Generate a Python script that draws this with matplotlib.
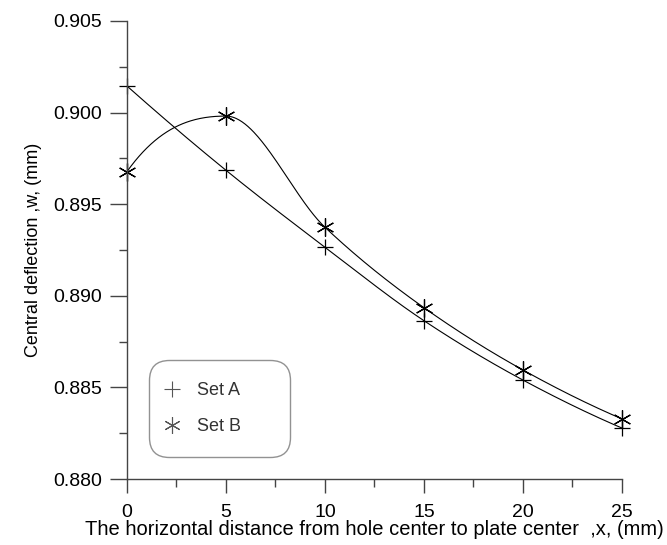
import numpy as np
import matplotlib
matplotlib.use("Agg")
import matplotlib.pyplot as plt

plt.rcParams['font.family'] = ['Liberation Sans', 'DejaVu Sans']

x_mm = [0, 5, 10, 15, 20, 25]
set_a = [0.90145, 0.89685, 0.89265, 0.88864, 0.88540, 0.88278]
set_b = [0.89678, 0.89981, 0.89374, 0.88935, 0.88595, 0.88328]


def pchip(x, y, xs):
    # monotone piecewise cubic (Fritsch-Carlson)
    x = np.asarray(x, float)
    y = np.asarray(y, float)
    h = np.diff(x)
    d = np.diff(y) / h
    n = len(x)
    m = np.zeros(n)
    for k in range(1, n - 1):
        if d[k - 1] * d[k] > 0:
            w1 = 2 * h[k] + h[k - 1]
            w2 = h[k] + 2 * h[k - 1]
            m[k] = (w1 + w2) / (w1 / d[k - 1] + w2 / d[k])
    def end(h0, h1, d0, d1):
        s = ((2 * h0 + h1) * d0 - h0 * d1) / (h0 + h1)
        if np.sign(s) != np.sign(d0):
            s = 0.0
        elif np.sign(d0) != np.sign(d1) and abs(s) > abs(3 * d0):
            s = 3 * d0
        return s
    m[0] = end(h[0], h[1], d[0], d[1])
    m[-1] = end(h[-1], h[-2], d[-1], d[-2])
    idx = np.clip(np.searchsorted(x, xs) - 1, 0, n - 2)
    hh = h[idx]
    t = (xs - x[idx]) / hh
    h00 = 2 * t**3 - 3 * t**2 + 1
    h10 = t**3 - 2 * t**2 + t
    h01 = -2 * t**3 + 3 * t**2
    h11 = t**3 - t**2
    return h00 * y[idx] + h10 * hh * m[idx] + h01 * y[idx + 1] + h11 * hh * m[idx + 1]


fig = plt.figure(figsize=(6.67, 5.45), dpi=100)
ax = fig.add_axes([0.1904, 0.1211, 0.7421, 0.8404])

xs = np.linspace(0, 25, 500)
ax.plot(xs, pchip(x_mm, set_a, xs), color='black', lw=0.8)
ax.plot(xs, pchip(x_mm, set_b, xs), color='black', lw=0.8)
ax.plot(x_mm, set_a, ls='none', marker='+', ms=11, mew=0.9, color='black', clip_on=False)
ax.plot(x_mm, set_b, ls='none', marker=(6, 2, 0), ms=13, mew=0.9, color='black', clip_on=False)

# legend entries drawn with lighter proxies
ha, = ax.plot([], [], ls='none', marker='+', ms=11, mew=0.8, color='#555555', label='Set A')
hb, = ax.plot([], [], ls='none', marker=(6, 2, 0), ms=12, mew=0.8, color='#555555', label='Set B')
leg = ax.legend(handles=[ha, hb], loc='lower left', bbox_to_anchor=(0.0444, 0.048, 0.285, 0.205),
                mode='expand', fontsize=13, frameon=True, fancybox=True, borderpad=1.2,
                labelspacing=1.08, handlelength=0.1, handletextpad=1.35, borderaxespad=0)
for t in leg.get_texts():
    t.set_color('#333333')
frame = leg.get_frame()
frame.set_edgecolor('#777777')
frame.set_linewidth(1.0)
frame.set_boxstyle('round', pad=0, rounding_size=1.1)

ax.set_xlim(0, 25)
ax.set_ylim(0.880, 0.905)
ax.set_xticks(np.arange(0, 26, 5))
ax.set_xticks(np.arange(0, 26, 2.5), minor=True)
ax.set_yticks(np.arange(0.880, 0.9051, 0.005))
ax.set_yticks(np.arange(0.880, 0.9051, 0.0025), minor=True)
ax.set_yticklabels([f'{v:.3f}' for v in np.arange(0.880, 0.9051, 0.005)])

for s in ['top', 'right']:
    ax.spines[s].set_visible(False)
for s in ['left', 'bottom']:
    ax.spines[s].set_color('#444444')
    ax.spines[s].set_linewidth(1.0)

ax.tick_params(axis='y', which='major', length=12, width=1, color='#444444', labelsize=14, pad=6)
ax.tick_params(axis='x', which='major', length=10, width=1, color='#444444', labelsize=14, pad=8)
ax.tick_params(which='minor', length=6, width=1, color='#444444')

ax.set_xlabel('The horizontal distance from hole center to plate center  ,x, (mm)', fontsize=14.5, labelpad=-1)
ax.set_ylabel('Central deflection ,w, (mm)', fontsize=13, labelpad=8)

fig.savefig('out.png', dpi=100)
